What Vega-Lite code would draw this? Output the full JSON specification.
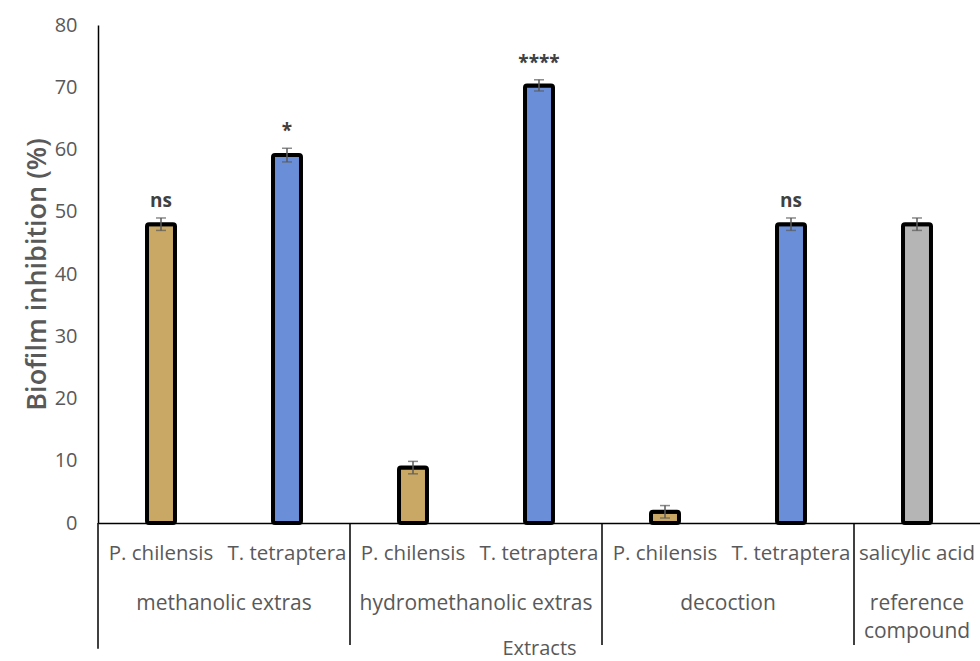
{
  "$schema": "https://vega.github.io/schema/vega-lite/v6.json",
  "width": 882,
  "height": 498,
  "autosize": {"type": "none"},
  "padding": {"left": 98, "top": 25, "right": 0, "bottom": 138},
  "background": "white",
  "config": {"view": {"stroke": null}, "font": "Open Sans"},
  "datasets": {
    "bars": [
      {"id": "1", "species": "P. chilensis", "kind": "P. chilensis", "value": 48, "err": 1, "sig": "ns"},
      {"id": "2", "species": "T. tetraptera", "kind": "T. tetraptera", "value": 59.1, "err": 1.1, "sig": "*"},
      {"id": "3", "species": "P. chilensis", "kind": "P. chilensis", "value": 8.9, "err": 1, "sig": ""},
      {"id": "4", "species": "T. tetraptera", "kind": "T. tetraptera", "value": 70.3, "err": 0.9, "sig": "****"},
      {"id": "5", "species": "P. chilensis", "kind": "P. chilensis", "value": 1.8, "err": 1, "sig": ""},
      {"id": "6", "species": "T. tetraptera", "kind": "T. tetraptera", "value": 48, "err": 1, "sig": "ns"},
      {"id": "7", "species": "salicylic acid", "kind": "reference", "value": 48, "err": 1, "sig": ""}
    ],
    "groups": [
      {"id": "1", "group": "methanolic extras"},
      {"id": "3", "group": "hydromethanolic extras"},
      {"id": "5", "group": "decoction"}
    ],
    "refgroup": [
      {"id": "7", "group": ["reference", "compound"]}
    ],
    "seps": [
      {"id": "2"}, {"id": "4"}, {"id": "6"}
    ]
  },
  "encoding": {
    "x": {
      "field": "id",
      "type": "nominal",
      "sort": ["1", "2", "3", "4", "5", "6", "7"],
      "scale": {"domain": ["1", "2", "3", "4", "5", "6", "7"], "paddingInner": 0, "paddingOuter": 0},
      "axis": {
        "labels": false,
        "ticks": false,
        "domainColor": "#000000",
        "domainWidth": 1.5,
        "title": "Extracts",
        "titleFontSize": 20,
        "titleFontWeight": "normal",
        "titleColor": "#595959",
        "titlePadding": 115
      }
    }
  },
  "layer": [
    {
      "data": {"name": "bars"},
      "mark": {"type": "bar", "width": {"band": 0.222}, "stroke": "#000000", "strokeWidth": 4, "cornerRadius": 2},
      "encoding": {
        "y": {
          "field": "value",
          "type": "quantitative",
          "scale": {"domain": [0, 80]},
          "axis": {
            "values": [0, 10, 20, 30, 40, 50, 60, 70, 80],
            "grid": false,
            "ticks": false,
            "domainColor": "#000000",
            "domainWidth": 1.5,
            "labelFontSize": 20,
            "labelColor": "#595959",
            "labelPadding": 21,
            "title": "Biofilm inhibition (%)",
            "titleFontSize": 27,
            "titleFontWeight": 600,
            "titleColor": "#595959",
            "titlePadding": 3
          }
        },
        "color": {
          "field": "kind",
          "type": "nominal",
          "scale": {"domain": ["P. chilensis", "T. tetraptera", "reference"], "range": ["#c9a865", "#6a8fd8", "#b5b5b5"]},
          "legend": null
        }
      }
    },
    {
      "data": {"name": "bars"},
      "transform": [
        {"calculate": "datum.value - datum.err", "as": "lo"},
        {"calculate": "datum.value + datum.err", "as": "hi"}
      ],
      "mark": {"type": "rule", "color": "#5a5a5a", "strokeWidth": 1.5},
      "encoding": {
        "y": {"field": "lo", "type": "quantitative"},
        "y2": {"field": "hi"}
      }
    },
    {
      "data": {"name": "bars"},
      "transform": [{"calculate": "datum.value + datum.err", "as": "hi"}],
      "mark": {"type": "tick", "color": "#5a5a5a", "thickness": 1.5, "size": 10, "orient": "horizontal"},
      "encoding": {"y": {"field": "hi", "type": "quantitative"}}
    },
    {
      "data": {"name": "bars"},
      "transform": [{"calculate": "datum.value - datum.err", "as": "lo"}],
      "mark": {"type": "tick", "color": "#5a5a5a", "thickness": 1.5, "size": 10, "orient": "horizontal"},
      "encoding": {"y": {"field": "lo", "type": "quantitative"}}
    },
    {
      "data": {"name": "bars"},
      "transform": [{"calculate": "datum.value + datum.err", "as": "hi"}],
      "mark": {"type": "text", "baseline": "bottom", "dy": -7, "fontSize": 19, "fontWeight": "bold", "color": "#404040"},
      "encoding": {
        "y": {"field": "hi", "type": "quantitative"},
        "text": {"field": "sig"}
      }
    },
    {
      "data": {"name": "bars"},
      "mark": {"type": "text", "baseline": "middle", "fontSize": 20.5, "color": "#595959"},
      "encoding": {
        "y": {"datum": -5, "type": "quantitative"},
        "text": {"field": "species"}
      }
    },
    {
      "data": {"name": "groups"},
      "mark": {"type": "text", "baseline": "middle", "fontSize": 21, "color": "#595959"},
      "encoding": {
        "x": {"field": "id", "type": "nominal", "bandPosition": 1},
        "y": {"datum": -13, "type": "quantitative"},
        "text": {"field": "group"}
      }
    },
    {
      "data": {"name": "refgroup"},
      "mark": {"type": "text", "baseline": "middle", "fontSize": 21, "color": "#595959", "lineHeight": 28},
      "encoding": {
        "y": {"datum": -13, "type": "quantitative"},
        "text": {"field": "group"}
      }
    },
    {
      "data": {"name": "seps"},
      "mark": {"type": "rule", "color": "#000000", "strokeWidth": 1.5},
      "encoding": {
        "x": {"field": "id", "type": "nominal", "bandPosition": 1},
        "y": {"datum": 0, "type": "quantitative"},
        "y2": {"datum": -19.6}
      }
    },
    {
      "data": {"values": [{"id": "1"}]},
      "mark": {"type": "rule", "color": "#000000", "strokeWidth": 1.5},
      "encoding": {
        "x": {"field": "id", "type": "nominal", "bandPosition": 0},
        "y": {"datum": 0, "type": "quantitative"},
        "y2": {"datum": -20.2}
      }
    }
  ]
}
